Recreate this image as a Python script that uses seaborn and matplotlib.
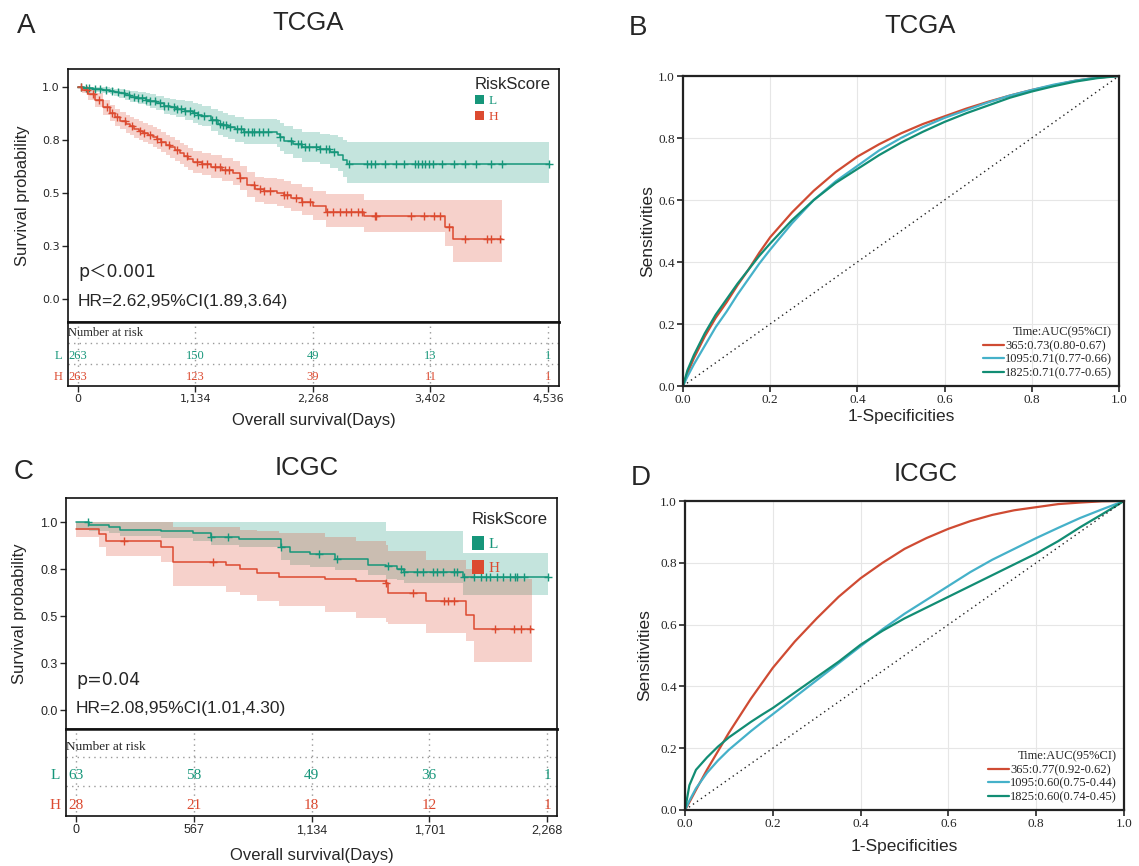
import numpy as np
import pandas as pd
import matplotlib
matplotlib.use("Agg")
import matplotlib.pyplot as plt
import seaborn as sns
from matplotlib.patches import Patch

# ---------------- data ----------------
# Panel A (TCGA) Kaplan-Meier, step change points
a_L_time = [0, 60, 150, 230, 305, 350, 400, 450, 500, 580, 655, 700, 750, 830, 890, 950, 1030, 1110, 1160, 1200,
            1280, 1356, 1400, 1450, 1520, 1600, 1916, 1950, 1986, 2080, 2161, 2336, 2430, 2511, 2560, 2599, 4543]
a_L_surv = [1.0, 0.995, 0.99, 0.986, 0.982, 0.976, 0.97, 0.963, 0.955, 0.947, 0.939, 0.932, 0.925, 0.911, 0.904,
            0.897, 0.887, 0.877, 0.869, 0.862, 0.845, 0.828, 0.82, 0.812, 0.80, 0.788, 0.778, 0.762, 0.747, 0.73,
            0.716, 0.706, 0.692, 0.678, 0.655, 0.635, 0.635]
a_L_upper = [1.0, 1.0, 1.0, 1.0, 0.997, 0.993, 0.99, 0.985, 0.98, 0.975, 0.97, 0.965, 0.96, 0.95, 0.945, 0.94,
             0.932, 0.925, 0.918, 0.912, 0.898, 0.885, 0.878, 0.87, 0.86, 0.85, 0.843, 0.83, 0.815, 0.80, 0.79,
             0.78, 0.772, 0.765, 0.75, 0.739, 0.739]
a_L_lower = [1.0, 0.985, 0.975, 0.97, 0.965, 0.957, 0.948, 0.94, 0.93, 0.92, 0.91, 0.9, 0.892, 0.875, 0.866,
             0.857, 0.845, 0.832, 0.823, 0.815, 0.795, 0.775, 0.766, 0.757, 0.743, 0.73, 0.718, 0.70, 0.684,
             0.665, 0.648, 0.636, 0.62, 0.605, 0.578, 0.548, 0.548]
a_L_cens = [25, 75, 110, 165, 215, 270, 330, 385, 440, 490, 545, 580, 620, 660, 700, 745, 790, 830, 870, 925,
            955, 990, 1030, 1080, 1120, 1160, 1215, 1290, 1330, 1370, 1400, 1430, 1465, 1530, 1570, 1600, 1640,
            1680, 1700, 1750, 1790, 1830, 1950, 2060, 2120, 2150, 2190, 2230, 2300, 2340, 2390, 2420, 2470,
            2616, 2792, 2827, 2862, 2967, 3073, 3143, 3248, 3283, 3318, 3353, 3388, 3423, 3510, 3633, 3738,
            3843, 3983, 4088, 4543]

a_H_time = [0, 40, 100, 165, 240, 305, 360, 410, 460, 500, 545, 585, 630, 680, 720, 760, 800, 850, 890, 935,
            980, 1020, 1065, 1110, 1200, 1285, 1390, 1496, 1560, 1636, 1706, 1800, 1916, 1990, 2056, 2160, 2266,
            2389, 2757, 3540, 3615, 4088]
a_H_surv = [1.0, 0.985, 0.965, 0.939, 0.905, 0.877, 0.857, 0.839, 0.826, 0.815, 0.804, 0.793, 0.785, 0.775,
            0.765, 0.755, 0.742, 0.728, 0.715, 0.701, 0.688, 0.675, 0.661, 0.647, 0.636, 0.624, 0.61, 0.594,
            0.57, 0.540, 0.517, 0.51, 0.502, 0.49, 0.479, 0.46, 0.440, 0.410, 0.390, 0.340, 0.284, 0.284]
a_H_upper = [1.0, 1.0, 0.99, 0.97, 0.94, 0.915, 0.897, 0.88, 0.868, 0.857, 0.847, 0.838, 0.83, 0.82, 0.81,
             0.80, 0.788, 0.775, 0.762, 0.75, 0.737, 0.725, 0.712, 0.70, 0.689, 0.678, 0.665, 0.65, 0.626, 0.60,
             0.578, 0.572, 0.565, 0.555, 0.545, 0.528, 0.51, 0.494, 0.466, 0.466, 0.466, 0.466]
a_H_lower = [1.0, 0.97, 0.94, 0.905, 0.87, 0.84, 0.818, 0.80, 0.785, 0.773, 0.761, 0.75, 0.74, 0.73, 0.718,
             0.707, 0.695, 0.68, 0.666, 0.65, 0.637, 0.625, 0.61, 0.595, 0.583, 0.57, 0.556, 0.54, 0.513, 0.483,
             0.46, 0.45, 0.44, 0.428, 0.415, 0.395, 0.375, 0.34, 0.317, 0.25, 0.175, 0.175]
a_H_cens = [30, 90, 150, 200, 280, 330, 380, 450, 520, 600, 640, 700, 760, 800, 880, 960, 1050, 1150, 1200,
            1250, 1320, 1370, 1420, 1460, 1560, 1700, 1760, 1800, 1850, 1990, 2020, 2100, 2160, 2240,
            2406, 2459, 2529, 2582, 2634, 2704, 2739, 2862, 2879, 3212, 3335, 3440, 3492, 3580, 3738, 3948,
            3983, 4070]

a_ticks = [0, 1134, 2268, 3402, 4536]
a_ticklabels = ["0", "1,134", "2,268", "3,402", "4,536"]
a_risk_L = [263, 150, 49, 13, 1]
a_risk_H = [263, 123, 39, 11, 1]

# Panel C (ICGC) Kaplan-Meier
c_L_time = [0, 65, 161, 214, 407, 564, 652, 784, 985, 1029, 1125, 1248, 1406, 1493, 1546, 1581, 1862, 2273]
c_L_surv = [1.0, 0.987, 0.976, 0.958, 0.955, 0.940, 0.922, 0.909, 0.87, 0.841, 0.828, 0.804, 0.774, 0.764, 0.750, 0.737, 0.710, 0.710]
c_L_upper = [1.0, 1.0, 1.0, 1.0, 1.0, 1.0, 1.0, 1.0, 1.0, 1.0, 1.0, 1.0, 1.0, 0.955, 0.955, 0.955, 0.837, 0.837]
c_L_lower = [0.96, 0.95, 0.94, 0.925, 0.918, 0.90, 0.88, 0.865, 0.80, 0.774, 0.76, 0.745, 0.72, 0.70, 0.69, 0.675, 0.61, 0.61]
c_L_cens = [56, 652, 731, 985, 1169, 1257, 1502, 1564, 1581, 1642, 1669, 1721, 1739, 1765, 1818, 1835, 1870,
            1914, 1949, 1975, 1993, 2028, 2054, 2089, 2116, 2124, 2159, 2273]

c_H_time = [0, 109, 144, 407, 468, 720, 792, 870, 976, 1200, 1350, 1493, 1502, 1686, 1879, 1914, 2195]
c_H_surv = [0.964, 0.937, 0.900, 0.868, 0.786, 0.77, 0.75, 0.73, 0.707, 0.695, 0.685, 0.674, 0.625, 0.583, 0.505, 0.433, 0.433]
c_H_upper = [1.0, 1.0, 1.0, 1.0, 0.973, 0.973, 0.96, 0.95, 0.94, 0.92, 0.90, 0.88, 0.846, 0.80, 0.75, 0.70, 0.70]
c_H_lower = [0.92, 0.87, 0.82, 0.79, 0.66, 0.63, 0.61, 0.58, 0.555, 0.52, 0.49, 0.47, 0.46, 0.41, 0.37, 0.257, 0.257]
c_H_cens = [231, 661, 1493, 1625, 1774, 1791, 1818, 2019, 2107, 2142, 2186]

c_ticks = [0, 567, 1134, 1701, 2268]
c_ticklabels = ["0", "567", "1,134", "1,701", "2,268"]
c_risk_L = [63, 58, 49, 36, 1]
c_risk_H = [28, 21, 18, 12, 1]

surv_ticks = [0.0, 0.25, 0.5, 0.75, 1.0]
surv_ticklabels = ["0.0", "0.3", "0.5", "0.8", "1.0"]

# ROC curves (B: TCGA, D: ICGC)
roc_fpr = [0, 0.01, 0.025, 0.05, 0.075, 0.1, 0.125, 0.15, 0.175, 0.2, 0.25, 0.3, 0.35, 0.4, 0.45, 0.5,
           0.55, 0.6, 0.65, 0.7, 0.75, 0.8, 0.85, 0.9, 0.95, 1.0]
b_365 = [0, 0.04, 0.09, 0.16, 0.22, 0.27, 0.325, 0.375, 0.43, 0.48, 0.56, 0.63, 0.69, 0.74, 0.78, 0.815,
         0.845, 0.87, 0.895, 0.917, 0.937, 0.955, 0.97, 0.985, 0.995, 1.0]
b_1095 = [0, 0.03, 0.07, 0.13, 0.19, 0.24, 0.295, 0.345, 0.395, 0.44, 0.525, 0.60, 0.66, 0.71, 0.76, 0.80,
          0.835, 0.865, 0.89, 0.915, 0.937, 0.955, 0.972, 0.985, 0.995, 1.0]
b_1825 = [0, 0.05, 0.10, 0.17, 0.23, 0.28, 0.33, 0.375, 0.42, 0.46, 0.535, 0.60, 0.655, 0.70, 0.745, 0.785,
          0.82, 0.852, 0.88, 0.905, 0.93, 0.95, 0.967, 0.982, 0.993, 1.0]
d_365 = [0, 0.025, 0.065, 0.13, 0.19, 0.25, 0.305, 0.36, 0.41, 0.46, 0.545, 0.62, 0.69, 0.75, 0.80, 0.845,
         0.88, 0.91, 0.935, 0.955, 0.97, 0.98, 0.99, 0.995, 0.999, 1.0]
d_1095 = [0, 0.03, 0.07, 0.12, 0.16, 0.195, 0.225, 0.255, 0.283, 0.31, 0.365, 0.42, 0.475, 0.53, 0.585, 0.635,
          0.68, 0.725, 0.77, 0.81, 0.845, 0.88, 0.913, 0.945, 0.973, 1.0]
d_1825 = [0, 0.08, 0.13, 0.17, 0.205, 0.235, 0.26, 0.285, 0.308, 0.33, 0.38, 0.43, 0.48, 0.535, 0.58, 0.62,
          0.655, 0.69, 0.725, 0.76, 0.795, 0.83, 0.87, 0.915, 0.957, 1.0]
b_labels = ["365:0.73(0.80-0.67)", "1095:0.71(0.77-0.66)", "1825:0.71(0.77-0.65)"]
d_labels = ["365:0.77(0.92-0.62)", "1095:0.60(0.75-0.44)", "1825:0.60(0.74-0.45)"]
diag = [0, 1]
roc_ticks = [0.0, 0.2, 0.4, 0.6, 0.8, 1.0]

# ---------------- style ----------------
sns.set_theme(style="white")
plt.rcParams['font.family'] = ['DejaVu Sans', 'Noto Sans CJK SC']
SANS = ['Liberation Sans', 'DejaVu Sans', 'Noto Sans CJK SC']
SERIF = 'Liberation Serif'
TEAL = '#16967a'
RED = '#dc4a30'
ROC_COLORS = ['#cf4b33', '#45b1c9', '#128d74']

fig = plt.figure(figsize=(11.39, 8.66), dpi=100)
W, H = 1139, 866


def add_ax(x0, y0, x1, y1):
    return fig.add_axes([x0 / W, 1 - y1 / H, (x1 - x0) / W, (y1 - y0) / H])


def step_at(times, surv, t):
    times = np.asarray(times)
    idx = np.searchsorted(times, np.asarray(t), side='right') - 1
    idx = np.clip(idx, 0, len(surv) - 1)
    return np.asarray(surv)[idx]


def draw_km(ax, axt, groups, xlim, ylim, ticks, ticklabels, riskL, riskH, ptxt, hrtxt, ptxt_y, hr_y,
            tick_font, tick_size, tab_num_size, tab_head_size, rows, leg_cfg, xl_y, yl_x):
    for (t, s, lo, up, cens, col) in groups:
        ax.fill_between(t, lo, up, step='post', color=col, alpha=0.25, lw=0)
    for (t, s, lo, up, cens, col) in groups:
        df = pd.DataFrame({'time': t, 'surv': s})
        sns.lineplot(data=df, x='time', y='surv', ax=ax, color=col, lw=1.1,
                     drawstyle='steps-post', estimator=None, sort=False)
        cy = step_at(t, s, cens)
        sns.scatterplot(x=cens, y=cy, ax=ax, marker='+', s=28, color=col, linewidth=1.0)
    ax.set_xlim(*xlim)
    ax.set_ylim(*ylim)
    ax.set_yticks(surv_ticks)
    ax.set_yticklabels(surv_ticklabels, family=tick_font, fontsize=tick_size)
    ax.tick_params(axis='y', direction='out', length=4, width=1, left=True, pad=2)
    ax.tick_params(axis='x', bottom=False, labelbottom=False)
    ax.set_xlabel('')
    ax.set_ylabel('Survival probability', fontsize=12, family=SANS)
    ax.yaxis.set_label_coords(yl_x, 0.5)
    for sp in ax.spines.values():
        sp.set_visible(True)
        sp.set_color('#111111')
        sp.set_linewidth(1.2)
    ax.spines['bottom'].set_linewidth(1.8)
    ax.text(0, ptxt_y, ptxt, fontsize=12.5, va='center', ha='left',
            family=['DejaVu Sans', 'Noto Sans CJK SC'])
    ax.text(0, hr_y, hrtxt, fontsize=12.5, va='center', ha='left', family=SANS)
    # legend
    handles = [Patch(facecolor=TEAL, edgecolor='none'), Patch(facecolor=RED, edgecolor='none')]
    leg = ax.legend(handles, ['L', 'H'], title='RiskScore', loc='upper right',
                    bbox_to_anchor=leg_cfg['anchor'], frameon=False,
                    handlelength=leg_cfg['hl'], handleheight=leg_cfg['hh'], handletextpad=0.3,
                    labelspacing=leg_cfg['ls'], borderaxespad=0.2,
                    prop={'family': SERIF, 'size': leg_cfg['fs']},
                    title_fontproperties={'family': 'Liberation Sans', 'size': 12})
    leg._legend_box.align = 'left'
    for txt, col in zip(leg.get_texts(), [TEAL, RED]):
        txt.set_color(col)

    # risk table
    axt.set_xlim(*xlim)
    axt.set_ylim(0, 1)
    axt.set_yticks([])
    axt.set_xticks(ticks)
    axt.set_xticklabels(ticklabels, family=tick_font, fontsize=tick_size)
    axt.tick_params(axis='x', direction='out', length=4, width=1, bottom=True, pad=2)
    for sp in axt.spines.values():
        sp.set_visible(True)
        sp.set_color('#111111')
        sp.set_linewidth(1.2)
    axt.spines['top'].set_linewidth(1.8)
    axt.vlines(ticks, 0.05, 1, colors='#999999', linestyles=(0, (1, 3)), lw=1)
    axt.axhline(rows['d1'], color='#999999', ls=(0, (1, 3)), lw=1)
    axt.axhline(rows['d2'], color='#999999', ls=(0, (1, 3)), lw=1)
    axt.text(0.0, rows['head'], 'Number at risk', transform=axt.transAxes, ha='left', va='center',
             family=SERIF, fontsize=tab_head_size)
    for tk, nl, nh in zip(ticks, riskL, riskH):
        axt.text(tk, rows['L'], str(nl), color=TEAL, ha='center', va='center', family=SERIF,
                 fontsize=tab_num_size)
        axt.text(tk, rows['H'], str(nh), color=RED, ha='center', va='center', family=SERIF,
                 fontsize=tab_num_size)
    axt.text(-0.012, rows['L'], 'L', color=TEAL, transform=axt.transAxes, ha='right', va='center',
             family=SERIF, fontsize=tab_num_size)
    axt.text(-0.012, rows['H'], 'H', color=RED, transform=axt.transAxes, ha='right', va='center',
             family=SERIF, fontsize=tab_num_size)
    axt.set_xlabel('Overall survival(Days)', fontsize=12, family=SANS)
    axt.xaxis.set_label_coords(0.5, xl_y)


def draw_roc(ax, curves, labels, xl_y, yl_x):
    ax.grid(True, color='#e6e6e6', lw=0.8)
    ax.set_axisbelow(True)
    for ys, lab, col in zip(curves, labels, ROC_COLORS):
        df = pd.DataFrame({'fpr': roc_fpr, 'tpr': ys})
        sns.lineplot(data=df, x='fpr', y='tpr', ax=ax, color=col, lw=1.6, label=lab,
                     estimator=None, sort=False)
    ax.plot(diag, diag, color='#222222', ls=(0, (1, 2.5)), lw=1.0)
    ax.set_xlim(0, 1)
    ax.set_ylim(0, 1)
    ax.set_xticks(roc_ticks)
    ax.set_yticks(roc_ticks)
    ax.set_xticklabels([f"{v:.1f}" for v in roc_ticks], family=SERIF, fontsize=9.5)
    ax.set_yticklabels([f"{v:.1f}" for v in roc_ticks], family=SERIF, fontsize=9.5)
    ax.tick_params(direction='out', length=4, width=1.2, bottom=True, left=True, pad=2)
    for sp in ax.spines.values():
        sp.set_visible(True)
        sp.set_color('#222222')
        sp.set_linewidth(1.6)
    ax.set_xlabel('1-Specificities', fontsize=12.5, family=SANS)
    ax.set_ylabel('Sensitivities', fontsize=12.5, family=SANS)
    ax.xaxis.set_label_coords(0.5, xl_y)
    ax.yaxis.set_label_coords(yl_x, 0.5)
    leg = ax.legend(title='Time:AUC(95%CI)', loc='lower right', bbox_to_anchor=(1.0, 0.0),
                    frameon=False, handlelength=1.7, handletextpad=0.1, labelspacing=0.12,
                    borderaxespad=0.15, prop={'family': SERIF, 'size': 9},
                    title_fontproperties={'family': SERIF, 'size': 9})
    leg._legend_box.align = 'right'


# ---------------- Panel A ----------------
axA = add_ax(68, 69, 559, 322)
axAt = add_ax(68, 322, 559, 386)
draw_km(axA, axAt,
        [(a_L_time, a_L_surv, a_L_lower, a_L_upper, a_L_cens, TEAL),
         (a_H_time, a_H_surv, a_H_lower, a_H_upper, a_H_cens, RED)],
        (-96, 4642), (-0.108, 1.085), a_ticks, a_ticklabels, a_risk_L, a_risk_H,
        'p\uff1c0.001', 'HR=2.62,95%CI(1.89,3.64)', 0.127, -0.012,
        'DejaVu Sans', 8, 9, 9, {'head': 0.83, 'd1': 0.67, 'L': 0.47, 'd2': 0.34, 'H': 0.14},
        {'anchor': (1.0, 1.0), 'hl': 0.7, 'hh': 0.7, 'ls': 0.25, 'fs': 9.5}, -0.42, -0.077)

# ---------------- Panel C ----------------
axC = add_ax(66, 498, 557, 729)
axCt = add_ax(66, 729, 557, 816)
draw_km(axC, axCt,
        [(c_L_time, c_L_surv, c_L_lower, c_L_upper, c_L_cens, TEAL),
         (c_H_time, c_H_surv, c_H_lower, c_H_upper, c_H_cens, RED)],
        (-48, 2316), (-0.10, 1.128), c_ticks, c_ticklabels, c_risk_L, c_risk_H,
        'p=0.04', 'HR=2.08,95%CI(1.01,4.30)', 0.16, 0.01,
        'Liberation Sans', 9, 11, 9.5, {'head': 0.79, 'd1': 0.68, 'L': 0.47, 'd2': 0.345, 'H': 0.126},
        {'anchor': (1.0, 0.98), 'hl': 0.8, 'hh': 1.0, 'ls': 0.6, 'fs': 11}, -0.37, -0.079)

# ---------------- Panels B, D ----------------
axB = add_ax(683, 76, 1119, 386)
draw_roc(axB, [b_365, b_1095, b_1825], b_labels, -0.075, -0.064)
axD = add_ax(685, 501, 1124, 810)
draw_roc(axD, [d_365, d_1095, d_1825], d_labels, -0.095, -0.075)

# ---------------- titles & letters ----------------
fig.text(308 / W, 1 - 23 / H, 'TCGA', ha='center', va='center', fontsize=18.5, family=SANS)
fig.text(920 / W, 1 - 26 / H, 'TCGA', ha='center', va='center', fontsize=18.5, family=SANS)
fig.text(307 / W, 1 - 468 / H, 'ICGC', ha='center', va='center', fontsize=18.5, family=SANS)
fig.text(926 / W, 1 - 474 / H, 'ICGC', ha='center', va='center', fontsize=18.5, family=SANS)
fig.text(26 / W, 1 - 26 / H, 'A', ha='center', va='center', fontsize=20, family=SANS)
fig.text(638 / W, 1 - 28 / H, 'B', ha='center', va='center', fontsize=20, family=SANS)
fig.text(24 / W, 1 - 472 / H, 'C', ha='center', va='center', fontsize=20, family=SANS)
fig.text(641 / W, 1 - 478 / H, 'D', ha='center', va='center', fontsize=20, family=SANS)

fig.savefig('out.png', dpi=100, facecolor='white')
